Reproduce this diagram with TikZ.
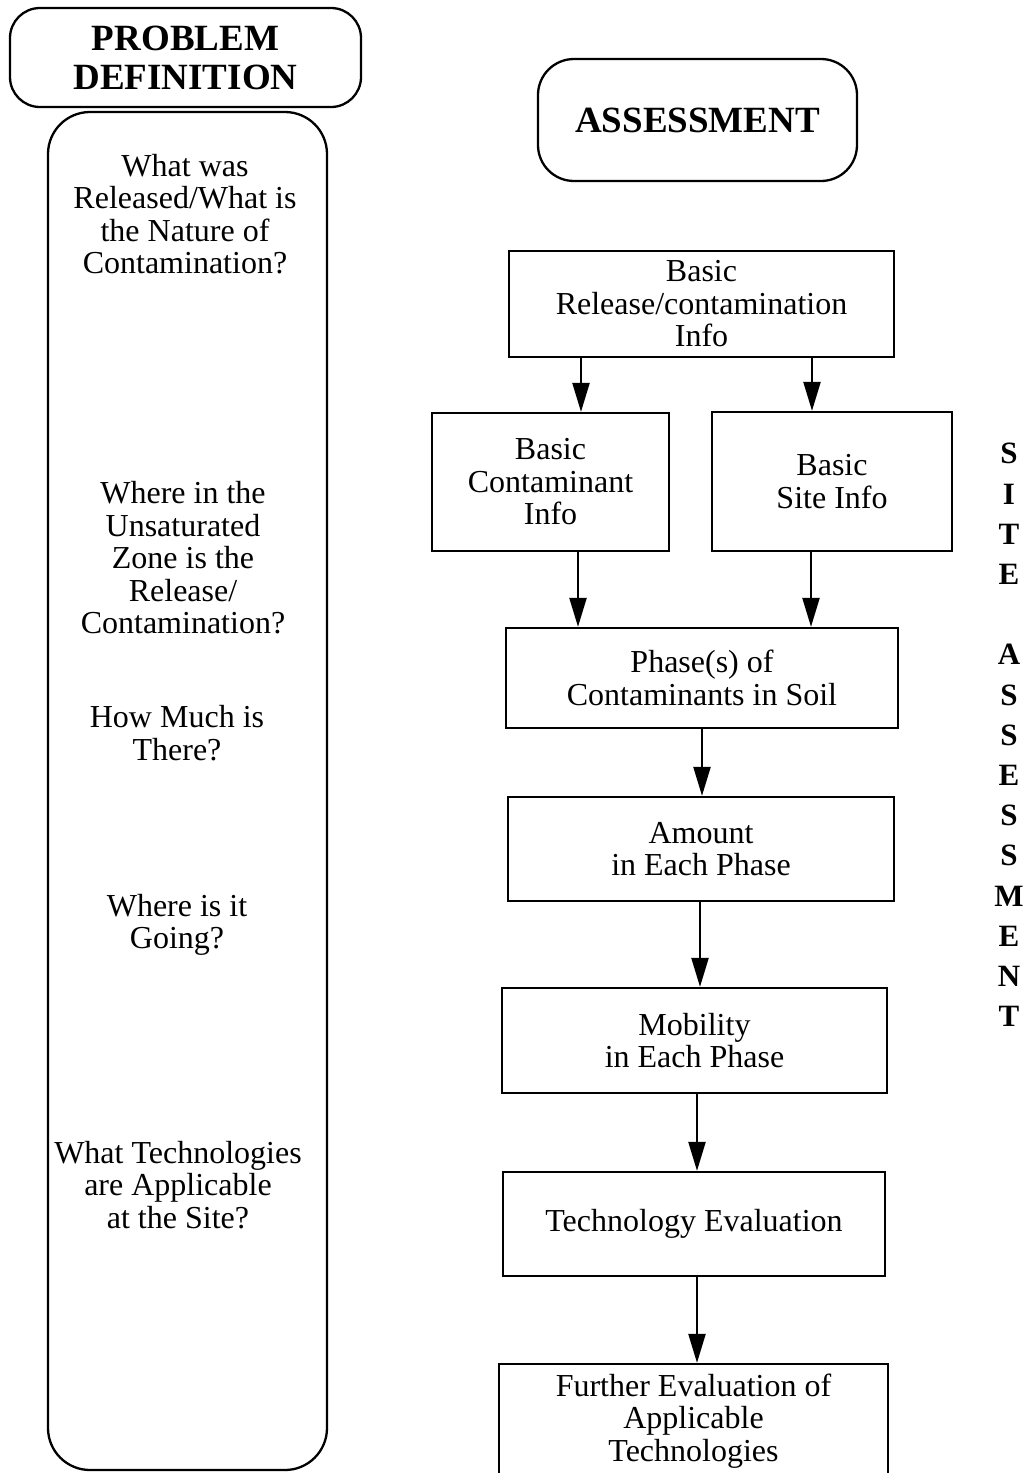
\documentclass[tikz,border=0pt]{standalone}
\usepackage{fontspec}
\setmainfont{Liberation Serif}
\usetikzlibrary{arrows.meta}
\begin{document}
\begin{tikzpicture}[x=1pt,y=-1pt,
  line width=2.3pt,
  body/.style={font=\fontsize{32}{32.5}\selectfont, align=center, inner sep=0pt},
  head/.style={font=\fontsize{37}{39}\selectfont\bfseries, align=center, inner sep=0pt},
  rbox/.style={draw, rounded corners=#1, inner sep=0pt},
  sbox/.style={draw, body, minimum width=#1},
  arr/.style={-{Triangle[length=29pt,width=17pt]}, line width=2.3pt}]
\clip (0,0) rectangle (1036,1473);
\fill[white] (0,0) rectangle (1036,1473);

% ---- Problem definition column ----
\node[rbox=30pt, head, minimum width=351pt, minimum height=99pt] (pdef) at (185.5,57.5) {PROBLEM\\DEFINITION};
\node[rbox=42pt, minimum width=279pt, minimum height=1358pt] (qcol) at (187.5,791) {};

\node[body] (q1) at (185,214) {What was\\Released/What is\\the Nature of\\Contamination?};
\node[body] (q2) at (183,558) {Where in the\\Unsaturated\\Zone is the\\Release/\\Contamination?};
\node[body] (q3) at (177,733) {How Much is\\There?};
\node[body] (q4) at (177,925) {Where is it\\Going?};
\node[body] (q5) at (178,1185) {What Technologies\\are Applicable\\at the Site?};

% ---- Assessment flow ----
\node[rbox=36pt, head, minimum width=319pt, minimum height=122pt] (assess) at (697.5,120) {ASSESSMENT};

\node[sbox=385pt, minimum height=106pt] (rel) at (701.5,304) {Basic\\Release/contamination\\Info};
\node[sbox=237pt, minimum height=138pt] (cont) at (550.5,482) {Basic\\Contaminant\\Info};
\node[sbox=240pt, minimum height=139pt] (site) at (832,481.5) {Basic\\Site Info};
\node[sbox=392pt, minimum height=100pt] (phase) at (702,678) {Phase(s) of\\Contaminants in Soil};
\node[sbox=386pt, minimum height=104pt] (amount) at (701,849) {Amount\\in Each Phase};
\node[sbox=385pt, minimum height=105pt] (mobil) at (694.5,1040.5) {Mobility\\in Each Phase};
\node[sbox=382pt, minimum height=104pt] (tech) at (694,1224) {Technology Evaluation};
\node[sbox=389pt, minimum height=114pt] (further) at (693.5,1421) {Further Evaluation of\\Applicable\\Technologies};

% arrow columns
\coordinate (ca) at (581,0);
\coordinate (cb) at (812,0);
\coordinate (cc) at (578,0);
\coordinate (cd) at (811,0);
\coordinate (ce) at (702,0);
\coordinate (cf) at (700,0);
\coordinate (cg) at (697,0);

\draw[arr] (rel.south -| ca) -- (cont.north -| ca);
\draw[arr] (rel.south -| cb) -- (site.north -| cb);
\draw[arr] (cont.south -| cc) -- (phase.north -| cc);
\draw[arr] (site.south -| cd) -- (phase.north -| cd);
\draw[arr] (phase.south -| ce) -- (amount.north -| ce);
\draw[arr] (amount.south -| cf) -- (mobil.north -| cf);
\draw[arr] (mobil.south -| cg) -- (tech.north -| cg);
\draw[arr] (tech.south -| cg) -- (further.north -| cg);

% ---- vertical side label ----
\node[font=\fontsize{31}{40.2}\selectfont\bfseries, align=center, inner sep=0pt] (side) at (1009,735)
  {S\\I\\T\\E\\[40.2pt]A\\S\\S\\E\\S\\S\\M\\E\\N\\T};
\end{tikzpicture}
\end{document}
